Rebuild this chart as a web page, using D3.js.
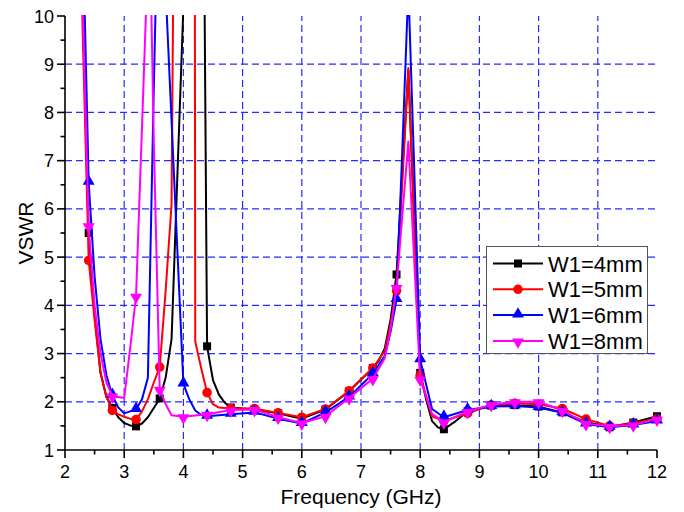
<!DOCTYPE html>
<html><head><meta charset="utf-8">
<script src="https://cdn.jsdelivr.net/npm/d3@7/dist/d3.min.js"></script>
<style>body{margin:0;background:#fff}svg{display:block}text{font-family:Arial,"Liberation Sans",sans-serif}</style>
</head><body>
<svg id="chart" width="684" height="512"></svg>
<script>
// ---- data ----
const seriesNames = ["W1=4mm", "W1=5mm", "W1=6mm", "W1=8mm"];
const seriesColors = ["#000000", "#ff0000", "#0000ff", "#ff00ff"];
const seriesSymbols = ["square", "circle", "triangle", "triangleDown"];

const freqW4 = [2.1,2.3,2.4,2.5,2.6,2.7,2.8,2.9,3.0,3.1,3.2,3.3,3.4,3.5,3.6,3.7,3.8,4.0,4.15,4.3,4.4,4.5,4.6,4.7,4.8,5.2,5.6,6.0,6.4,6.8,7.2,7.3,7.4,7.5,7.6,7.7,7.8,7.9,8.0,8.1,8.2,8.3,8.4,8.6,8.8,9.2,9.6,10.0,10.4,10.8,11.2,11.6,12.0];
const vswrW4 = [20,10.3,5.5,3.8,2.6,2.1,1.87,1.68,1.56,1.51,1.49,1.55,1.68,1.87,2.07,2.5,3.3,10.2,40,20,3.15,2.45,2.15,1.98,1.88,1.84,1.76,1.65,1.84,2.22,2.7,2.85,3.1,3.7,4.64,6.8,8.88,5.7,2.6,2.05,1.6,1.47,1.43,1.6,1.8,1.92,1.93,1.9,1.78,1.58,1.47,1.57,1.7];

const freqW5 = [2.1,2.3,2.4,2.5,2.6,2.7,2.8,2.9,3.0,3.1,3.2,3.3,3.4,3.5,3.6,3.7,3.8,3.85,4.0,4.15,4.2,4.3,4.4,4.5,4.6,4.8,5.2,5.6,6.0,6.4,6.8,7.2,7.4,7.5,7.6,7.7,7.8,7.9,8.0,8.2,8.4,8.8,9.2,9.6,10.0,10.4,10.8,11.2,11.6,12.0];
const vswrW5 = [20,9.6,4.93,3.7,2.6,2.1,1.82,1.74,1.69,1.65,1.63,1.8,2.05,2.4,2.72,4.3,6.1,14,40,60,3.25,2.7,2.19,1.95,1.88,1.86,1.86,1.77,1.68,1.85,2.23,2.7,3.05,3.6,4.3,6.6,8.92,5.7,2.55,1.7,1.6,1.76,1.93,1.97,1.95,1.86,1.64,1.5,1.55,1.65];

const freqW6 = [2.2,2.3,2.4,2.5,2.6,2.7,2.8,2.9,3.0,3.1,3.2,3.3,3.4,3.5,3.6,3.7,4.0,4.1,4.2,4.3,4.4,4.8,5.2,5.6,6.0,6.4,6.8,7.2,7.4,7.5,7.6,7.7,7.8,7.9,8.0,8.2,8.4,8.8,9.2,9.6,10.0,10.4,10.8,11.2,11.6,12.0];
const vswrW6 = [20,11.8,6.55,4.6,3.3,2.55,2.13,1.88,1.76,1.8,1.84,2.05,2.5,8.5,14,10.55,2.37,2.05,1.82,1.73,1.7,1.74,1.78,1.65,1.55,1.78,2.1,2.58,2.95,3.45,4.12,7.3,10.6,6.8,2.87,1.85,1.68,1.83,1.9,1.91,1.88,1.77,1.54,1.47,1.52,1.6];

const freqW8 = [2.2,2.3,2.4,2.5,2.6,2.7,2.8,2.9,3.0,3.1,3.2,3.3,3.4,3.43,3.5,3.6,3.7,3.8,4.0,4.4,4.8,5.2,5.6,6.0,6.4,6.8,7.2,7.4,7.5,7.6,7.7,7.8,7.9,8.0,8.2,8.4,8.8,9.2,9.6,10.0,10.4,10.8,11.2,11.6,12.0];
const vswrW8 = [20,10.1,5.65,4.0,3.0,2.4,2.12,2.1,2.08,3.1,4.19,7.67,11.2,12,7.4,2.26,1.95,1.72,1.69,1.74,1.83,1.84,1.68,1.56,1.7,2.08,2.48,2.9,3.5,4.37,5.9,7.4,4.9,2.47,1.75,1.58,1.8,1.94,2.0,2.0,1.82,1.55,1.49,1.52,1.64];

const xTicks = [2,3,4,5,6,7,8,9,10,11,12];
const yTicks = [1,2,3,4,5,6,7,8,9,10];
const xTitle = "Frequency (GHz)";
const yTitle = "VSWR";

const freqs = [freqW4, freqW5, freqW6, freqW8];
const vswrs = [vswrW4, vswrW5, vswrW6, vswrW8];

// ---- drawing ----
const svg = d3.select("#chart");
const L = 65, R = 657, T = 16, B = 450;
const x = d3.scaleLinear().domain([2, 12]).range([L, R]);
const y = d3.scaleLinear().domain([1, 10]).range([B, T]);

const gridColor = "#2a2aff";
// grid
svg.append("g").selectAll("line").data(xTicks.filter(d => d > 2 && d < 12)).join("line")
  .attr("x1", d => x(d)).attr("x2", d => x(d)).attr("y1", B).attr("y2", T)
  .attr("stroke", gridColor).attr("stroke-width", 1.2).attr("stroke-dasharray", "7,4");
svg.append("g").selectAll("line").data(yTicks.filter(d => d > 1 && d < 10)).join("line")
  .attr("x1", L).attr("x2", R).attr("y1", d => y(d)).attr("y2", d => y(d))
  .attr("stroke", gridColor).attr("stroke-width", 1.2).attr("stroke-dasharray", "7,4");

// clip
svg.append("clipPath").attr("id", "clip").append("rect")
  .attr("x", L).attr("y", T - 1).attr("width", R - L + 20).attr("height", B - T + 1);

const symGen = {
  square: d3.symbol().type(d3.symbolSquare).size(64),
  circle: d3.symbol().type(d3.symbolCircle).size(72),
  triangle: d3.symbol().type(d3.symbolTriangle).size(62),
  triangleDown: d3.symbol().type(d3.symbolTriangle).size(62)
};
function drawSymbol(g, kind, cx, cy, color) {
  const p = g.append("path").attr("d", symGen[kind]()).attr("fill", color);
  if (kind === "triangleDown") p.attr("transform", `translate(${cx},${cy + 1}) rotate(180)`);
  else if (kind === "triangle") p.attr("transform", `translate(${cx},${cy - 1})`);
  else p.attr("transform", `translate(${cx},${cy})`);
}

const line = d3.line().x(d => x(d[0])).y(d => y(d[1]));
const plot = svg.append("g").attr("clip-path", "url(#clip)");
freqs.forEach((fs, i) => {
  const pts = fs.map((f, j) => [f, vswrs[i][j]]);
  plot.append("path").datum(pts).attr("d", line).attr("fill", "none")
    .attr("stroke", seriesColors[i]).attr("stroke-width", 2).attr("stroke-linejoin", "round");
  const mg = plot.append("g");
  pts.forEach(p => {
    const k = (p[0] - 2) / 0.4;
    if (Math.abs(k - Math.round(k)) < 1e-6 && p[1] <= 10) drawSymbol(mg, seriesSymbols[i], x(p[0]), y(p[1]), seriesColors[i]);
  });
});

// axes
const axG = svg.append("g").attr("stroke", "#000").attr("stroke-width", 1.6);
axG.append("line").attr("x1", L).attr("x2", L).attr("y1", T).attr("y2", B + 0.8);
axG.append("line").attr("x1", L - 0.8).attr("x2", R).attr("y1", B).attr("y2", B);
// x ticks
xTicks.forEach(t => axG.append("line").attr("x1", x(t)).attr("x2", x(t)).attr("y1", B).attr("y2", B + 8));
xTicks.slice(0, -1).forEach(t => axG.append("line").attr("x1", x(t + 0.5)).attr("x2", x(t + 0.5)).attr("y1", B).attr("y2", B + 4.5));
yTicks.forEach(t => axG.append("line").attr("x1", L - 8).attr("x2", L).attr("y1", y(t)).attr("y2", y(t)));
yTicks.slice(0, -1).forEach(t => axG.append("line").attr("x1", L - 4.5).attr("x2", L).attr("y1", y(t + 0.5)).attr("y2", y(t + 0.5)));

svg.append("g").selectAll("text").data(xTicks).join("text")
  .attr("x", d => x(d)).attr("y", B + 28).attr("text-anchor", "middle")
  .attr("font-size", 18).text(d => d);
svg.append("g").selectAll("text").data(yTicks).join("text")
  .attr("x", L - 11).attr("y", d => y(d) + 6.5).attr("text-anchor", "end")
  .attr("font-size", 18).text(d => d);

svg.append("text").attr("x", (L + R) / 2).attr("y", 504).attr("text-anchor", "middle")
  .attr("font-size", 21).text(xTitle);
svg.append("text").attr("transform", `translate(33,${(T + B) / 2}) rotate(-90)`)
  .attr("text-anchor", "middle").attr("font-size", 21).text(yTitle);

// legend
const lg = svg.append("g");
lg.append("rect").attr("x", 486.5).attr("y", 246.5).attr("width", 161).attr("height", 107)
  .attr("fill", "#fff").attr("stroke", "#555").attr("stroke-width", 1);
seriesNames.forEach((n, i) => {
  const cy = 263.5 + i * 25.8;
  lg.append("line").attr("x1", 493).attr("x2", 543).attr("y1", cy).attr("y2", cy)
    .attr("stroke", seriesColors[i]).attr("stroke-width", 2);
  drawSymbol(lg, seriesSymbols[i], 518, cy, seriesColors[i]);
  lg.append("text").attr("x", 548).attr("y", cy + 8).attr("font-size", 22).text(n);
});
</script>
</body></html>
